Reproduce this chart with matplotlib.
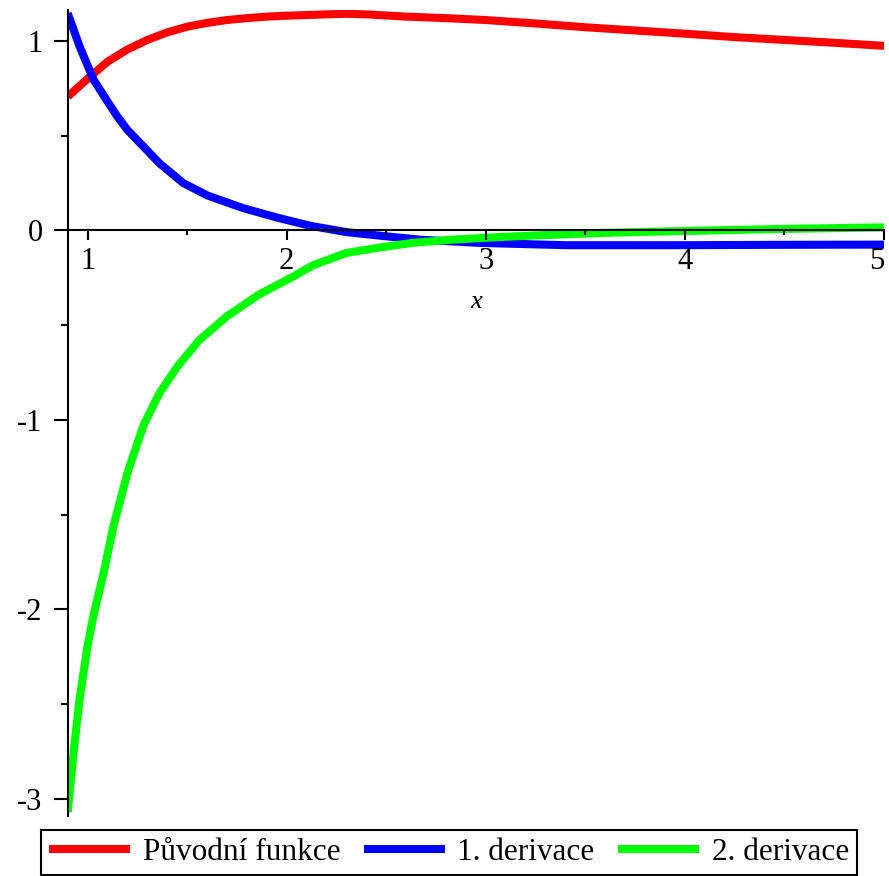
import matplotlib
matplotlib.use("Agg")
import matplotlib.pyplot as plt
from matplotlib.ticker import MultipleLocator

plt.rcParams['font.family'] = ['Liberation Serif', 'DejaVu Serif']
plt.rcParams['axes.unicode_minus'] = False

# values
x_f = [0.9, 1.0, 1.1, 1.2, 1.3, 1.4, 1.5, 1.6, 1.7, 1.8, 1.9, 2.0, 2.2, 2.3,
       2.4, 2.6, 2.8, 3.0, 3.25, 3.5, 3.75, 4.0, 4.25, 4.5, 4.75, 5.0]
y_f = [0.706, 0.80, 0.89, 0.955, 1.005, 1.045, 1.075, 1.095, 1.11, 1.12, 1.128,
       1.133, 1.14, 1.143, 1.14, 1.128, 1.12, 1.11, 1.092, 1.072, 1.055, 1.038,
       1.02, 1.005, 0.99, 0.974]

x_d1 = [0.9, 0.96, 1.03, 1.1, 1.15, 1.2, 1.28, 1.36, 1.48, 1.6, 1.78, 1.95,
        2.12, 2.3, 2.47, 2.67, 2.97, 3.4, 4.0, 4.5, 5.0]
y_d1 = [1.146, 0.97, 0.795, 0.68, 0.60, 0.53, 0.443, 0.355, 0.25, 0.185, 0.118,
        0.068, 0.024, -0.009, -0.028, -0.049, -0.066, -0.078, -0.078, -0.076, -0.075]

x_d2 = [0.9, 0.93, 0.96, 1.0, 1.03, 1.08, 1.13, 1.2, 1.28, 1.36, 1.45, 1.56,
        1.7, 1.86, 2.03, 2.13, 2.3, 2.47, 2.63, 2.83, 3.05, 3.22, 3.44, 3.63,
        4.0, 4.5, 5.0]
y_d2 = [-3.07, -2.75, -2.47, -2.19, -2.03, -1.81, -1.56, -1.28, -1.03, -0.86,
        -0.72, -0.58, -0.453, -0.339, -0.245, -0.185, -0.119, -0.09, -0.066,
        -0.049, -0.036, -0.028, -0.019, -0.012, -0.003, 0.008, 0.016]

labels = ["Původní funkce", "1. derivace", "2. derivace"]
colors = ["#ff0000", "#0000ff", "#00ff00"]
x_ticks = [1, 2, 3, 4, 5]

fig = plt.figure(figsize=(8.89, 8.76), dpi=100)
ax = fig.add_axes([67.7 / 889, 1 - 816 / 876, (884 - 67.7) / 889, (816 - 10) / 876])

series = [(x_f, y_f), (x_d1, y_d1), (x_d2, y_d2)]
for i, ((xs, ys), lab, col) in enumerate(zip(series, labels, colors)):
    ax.plot(xs, ys, color=col, lw=5.8, label=lab, zorder=1 + 0.1 * i,
            solid_capstyle='butt', solid_joinstyle='round')

ax.set_xlim(0.9, 5.0)
ax.set_ylim(-3.09, 1.163)
ax.set_axisbelow(False)

# Maple-like axes: x axis through y=0, y axis on the left edge
for s in ['top', 'right']:
    ax.spines[s].set_visible(False)
ax.spines['bottom'].set_position(('data', 0))
for s in ['left', 'bottom']:
    ax.spines[s].set_linewidth(1.5)
    ax.spines[s].set_zorder(5)

ax.xaxis.set_minor_locator(MultipleLocator(0.5))
ax.yaxis.set_major_locator(MultipleLocator(1))
ax.yaxis.set_minor_locator(MultipleLocator(0.5))
ax.tick_params(axis='x', which='major', direction='out', length=7, width=1.5,
               pad=5, labelsize=22)
ax.tick_params(axis='x', which='minor', direction='out', length=3.5, width=1.5)
ax.tick_params(axis='y', which='major', direction='out', length=10, width=1.5,
               pad=8, labelsize=22)
ax.tick_params(axis='y', which='minor', direction='out', length=5, width=1.5)
ax.set_xticks(x_ticks)
ax.set_xticklabels([str(t) for t in x_ticks])
# last label sits at the figure edge, keep it inside
ax.get_xticklabels()[-1].set_horizontalalignment('right')

ax.text(2.95, -0.38, 'x', style='italic', fontsize=19, ha='center', va='center')

leg = fig.legend(loc='upper center', bbox_to_anchor=(449 / 889, 1 - 830 / 876),
                 ncol=3, fontsize=22.5, handlelength=2.6, handletextpad=0.4,
                 columnspacing=0.75, borderpad=0.25, borderaxespad=0,
                 fancybox=False, framealpha=1, edgecolor='black')
leg.get_frame().set_linewidth(1.5)

fig.savefig("out.png", dpi=100)
